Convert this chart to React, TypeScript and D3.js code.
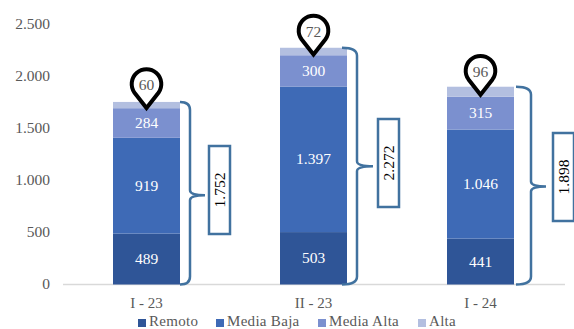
import React from "react";
import * as d3 from "d3";

const periods = ["I - 23", "II - 23", "I - 24"];
const seriesNames = ["Remoto", "Media Baja", "Media Alta", "Alta"];
const remoto = [489, 503, 441];
const mediaBaja = [919, 1397, 1046];
const mediaAlta = [284, 300, 315];
const alta = [60, 72, 96];
const totals = [1752, 2272, 1898];
const yTicks = [0, 500, 1000, 1500, 2000, 2500];
const colors = ["#2f5597", "#3e6ab6", "#7b90cf", "#b3bfe0"];
const legendX = [138, 216, 318, 418];
const braceStart = [0, -5, 2];
const braceW = [10, 15, 15];
const braceTip = [15, 16, 15];
const braceShift = [2, 0, 1];
const boxX = [209, 378, 553];
const boxCenter = [190, 163, 177];

const W = 574, H = 329;
const fmt = (v: number) => {
  const s = String(v);
  return s.length > 3 ? s.slice(0, -3) + "." + s.slice(-3) : s;
};
const FONT = "'Liberation Serif', 'Times New Roman', serif";

export default function App() {
  const y = d3.scaleLinear().domain([0, 2500]).range([284.5, 24]);
  const x = d3.scaleBand().domain(periods).range([63, 564]).paddingInner(0.6).paddingOuter(0.3);
  const cols = [remoto, mediaBaja, mediaAlta, alta];
  const table = periods.map((p, i) => ({ p, Remoto: remoto[i], "Media Baja": mediaBaja[i], "Media Alta": mediaAlta[i], Alta: alta[i] }));
  const stacked = d3.stack<any>().keys(seriesNames)(table);
  const bw = 67;
  const cx = (p: string) => x(p)! + x.bandwidth() / 2;

  return (
    <svg width={W} height={H} viewBox={`0 0 ${W} ${H}`} style={{ position: "absolute", left: 0, top: 0, background: "#fff", fontFamily: FONT }}>
      <line x1={63} x2={565} y1={y(0)} y2={y(0)} stroke="#d9d9d9" strokeWidth={1.5} />
      {yTicks.map((t) => (
        <text key={t} x={50} y={y(t) + 4.5} textAnchor="end" fontSize={15.5} fill="#595959">{fmt(t)}</text>
      ))}
      {periods.map((p) => (
        <text key={p} x={cx(p)} y={308} textAnchor="middle" fontSize={15} fill="#595959">{p}</text>
      ))}
      {stacked.map((s, k) => (
        <g key={s.key}>
          {s.map((d, i) => {
            const px = cx(periods[i]);
            return (
              <g key={i}>
                <rect x={px - bw / 2} width={bw} y={y(d[1])} height={y(d[0]) - y(d[1])} fill={colors[k]} />
                {k < 3 && (
                  <text x={px} y={(y(d[0]) + y(d[1])) / 2 + 5} textAnchor="middle" fontSize={15.5} fill="#fff">{fmt(cols[k][i])}</text>
                )}
              </g>
            );
          })}
        </g>
      ))}
      {periods.map((p, i) => {
        const px = cx(p);
        const mid = (y(stacked[3][i][0]) + y(stacked[3][i][1])) / 2;
        const tip = mid + 3;
        const r = 14.8;
        const c = tip - 24;
        const a = Math.PI * 0.2;
        const dx = r * Math.cos(a), dy = r * Math.sin(a);
        return (
          <g key={p}>
            <path d={`M${px},${tip} L${px - dx},${c + dy} A${r},${r} 0 1 1 ${px + dx},${c + dy} Z`} fill="#fff" stroke="#000" strokeWidth={4} strokeLinejoin="miter" />
            <text x={px} y={c + 6} textAnchor="middle" fontSize={15.5} fill="#595959">{alta[i]}</text>
          </g>
        );
      })}
      {periods.map((p, i) => {
        const x0 = cx(p) + bw / 2 + braceStart[i];
        const w = braceW[i];
        const tipX = x0 + w + braceTip[i];
        const top = y(totals[i]);
        const bot = y(0);
        const m = (top + bot) / 2 + braceShift[i];
        const vx = x0 + w;
        const q = 5;
        return (
          <g key={p}>
            <path
              d={`M${x0},${top} Q${vx},${top} ${vx},${top + q + 3} L${vx},${m - q} Q${vx},${m} ${tipX},${m} Q${vx},${m} ${vx},${m + q} L${vx},${bot - q - 3} Q${vx},${bot} ${x0},${bot}`}
              fill="none" stroke="#41729f" strokeWidth={2.5}
            />
            <rect x={boxX[i]} y={boxCenter[i] - 44} width={21} height={88} fill="#fff" stroke="#41729f" strokeWidth={2.5} />
            <text transform={`translate(${boxX[i] + 15.5},${boxCenter[i]}) rotate(-90)`} textAnchor="middle" fontSize={15.5} fill="#000">{fmt(totals[i])}</text>
          </g>
        );
      })}
      {seriesNames.map((n, i) => (
        <g key={n}>
          <rect x={legendX[i]} y={319} width={8} height={8} fill={colors[i]} />
          <text x={legendX[i] + 11} y={325.5} fontSize={15} letterSpacing={0.3} fill="#595959">{n}</text>
        </g>
      ))}
    </svg>
  );
}
